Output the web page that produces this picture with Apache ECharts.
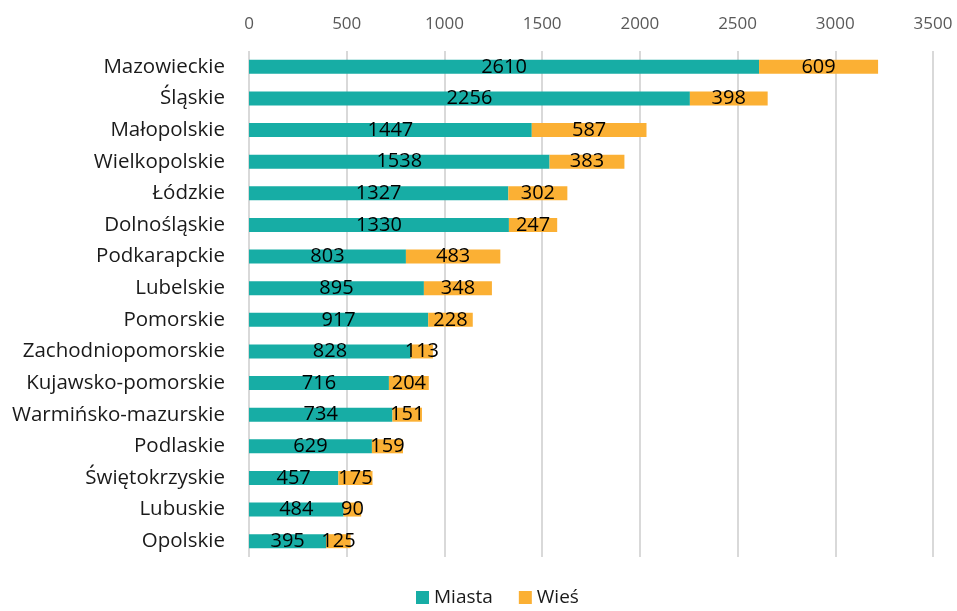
<!DOCTYPE html>
<html>
<head>
    <meta charset="utf-8">
    <title>Miasta i wieś wg województw</title>
    <script src="https://cdn.jsdelivr.net/npm/echarts@6.0.0/dist/echarts.min.js"></script>
    <style>
        body { margin: 0; background: #fff; }
        #chart { width: 957px; height: 611px; }
    </style>
</head>
<body>
    <div id="chart"></div>
    <script>
        // dane
        var regions = ['Mazowieckie', 'Śląskie', 'Małopolskie', 'Wielkopolskie', 'Łódzkie', 'Dolnośląskie',
            'Podkarapckie', 'Lubelskie', 'Pomorskie', 'Zachodniopomorskie', 'Kujawsko-pomorskie',
            'Warmińsko-mazurskie', 'Podlaskie', 'Świętokrzyskie', 'Lubuskie', 'Opolskie'];
        var miasta = [2610, 2256, 1447, 1538, 1327, 1330, 803, 895, 917, 828, 716, 734, 629, 457, 484, 395];
        var wies = [609, 398, 587, 383, 302, 247, 483, 348, 228, 113, 204, 151, 159, 175, 90, 125];

        var font = 'Open Sans';
        var chart = echarts.init(document.getElementById('chart'));

        var labelStyle = {
            show: true,
            position: 'inside',
            color: '#000',
            fontSize: 20,
            fontFamily: font
        };

        chart.setOption({
            animation: false,
            textStyle: { fontFamily: font },
            grid: { left: 249, right: 24, top: 51, bottom: 54 },
            legend: {
                bottom: -1,
                left: 411,
                itemWidth: 13,
                itemHeight: 13,
                itemGap: 26,
                icon: 'rect',
                textStyle: { fontSize: 19, color: '#1a1a1a', fontFamily: font },
                data: ['Miasta', 'Wieś']
            },
            xAxis: {
                type: 'value',
                position: 'top',
                min: 0,
                max: 3500,
                interval: 500,
                axisLine: { show: false },
                axisTick: { show: false },
                axisLabel: { color: '#595959', fontSize: 17, margin: 18, formatter: function (v) { return String(v); } },
                splitLine: { lineStyle: { color: '#d9d9d9', width: 2 } }
            },
            yAxis: {
                type: 'category',
                inverse: true,
                data: regions,
                axisLine: { show: false },
                axisTick: { show: false },
                axisLabel: { color: '#1a1a1a', fontSize: 20.5, margin: 24 }
            },
            series: [{
                name: 'Miasta',
                type: 'bar',
                stack: 'total',
                barWidth: 14,
                data: miasta,
                itemStyle: { color: '#17ada5' },
                label: labelStyle
            }, {
                name: 'Wieś',
                type: 'bar',
                stack: 'total',
                barWidth: 14,
                data: wies,
                itemStyle: { color: '#fbb034' },
                label: labelStyle
            }]
        });
    </script>
</body>
</html>
